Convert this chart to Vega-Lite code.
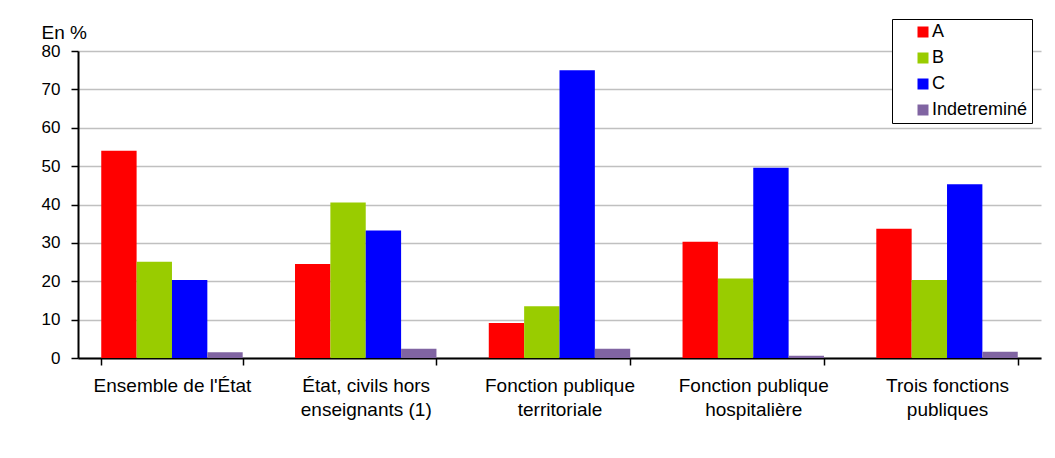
{
  "$schema": "https://vega.github.io/schema/vega-lite/v6.json",
  "autosize": "none",
  "width": 963,
  "height": 307,
  "padding": {"left": 78, "top": 51, "right": 14, "bottom": 100},
  "background": "white",
  "config": {
    "view": {"stroke": null},
    "font": "Liberation Sans",
    "axis": {"labelFont": "Liberation Sans", "titleFont": "Liberation Sans"}
  },
  "data": {
    "values": [
      {"cat": "Ensemble de l'État", "cls": "A", "v": 54.0},
      {"cat": "Ensemble de l'État", "cls": "B", "v": 25.1},
      {"cat": "Ensemble de l'État", "cls": "C", "v": 20.3},
      {"cat": "Ensemble de l'État", "cls": "Indetreminé", "v": 1.5},
      {"cat": "État, civils hors|enseignants (1)", "cls": "A", "v": 24.5},
      {"cat": "État, civils hors|enseignants (1)", "cls": "B", "v": 40.5},
      {"cat": "État, civils hors|enseignants (1)", "cls": "C", "v": 33.2},
      {"cat": "État, civils hors|enseignants (1)", "cls": "Indetreminé", "v": 2.4},
      {"cat": "Fonction publique|territoriale", "cls": "A", "v": 9.1},
      {"cat": "Fonction publique|territoriale", "cls": "B", "v": 13.5},
      {"cat": "Fonction publique|territoriale", "cls": "C", "v": 75.0},
      {"cat": "Fonction publique|territoriale", "cls": "Indetreminé", "v": 2.4},
      {"cat": "Fonction publique|hospitalière", "cls": "A", "v": 30.3},
      {"cat": "Fonction publique|hospitalière", "cls": "B", "v": 20.7},
      {"cat": "Fonction publique|hospitalière", "cls": "C", "v": 49.6},
      {"cat": "Fonction publique|hospitalière", "cls": "Indetreminé", "v": 0.6},
      {"cat": "Trois fonctions|publiques", "cls": "A", "v": 33.7},
      {"cat": "Trois fonctions|publiques", "cls": "B", "v": 20.3},
      {"cat": "Trois fonctions|publiques", "cls": "C", "v": 45.3},
      {"cat": "Trois fonctions|publiques", "cls": "Indetreminé", "v": 1.6}
    ]
  },
  "mark": {"type": "bar"},
  "encoding": {
    "x": {
      "field": "cat",
      "type": "nominal",
      "sort": null,
      "scale": {"paddingInner": 0.27, "paddingOuter": 0.12},
      "axis": {
        "title": null,
        "labelAngle": 0,
        "labelExpr": "split(datum.label, '|')",
        "labelFontSize": 19,
        "labelColor": "black",
        "labelPadding": 11,
        "labelLineHeight": 24,
        "tickBand": "extent",
        "tickColor": "black",
        "tickSize": 7,
        "tickWidth": 1.5,
        "domainColor": "black",
        "domainWidth": 2
      }
    },
    "xOffset": {"field": "cls", "type": "nominal", "sort": ["A", "B", "C", "Indetreminé"]},
    "y": {
      "field": "v",
      "type": "quantitative",
      "scale": {"domain": [0, 80]},
      "axis": {
        "values": [0, 10, 20, 30, 40, 50, 60, 70, 80],
        "title": "En %",
        "titleAngle": 0,
        "titleAlign": "left",
        "titleBaseline": "alphabetic",
        "titleX": -37,
        "titleY": -13,
        "titleFontSize": 19,
        "titleFontWeight": "normal",
        "titleColor": "black",
        "labelFontSize": 17,
        "labelColor": "black",
        "labelPadding": 11,
        "tickColor": "black",
        "tickSize": 7,
        "tickWidth": 1.5,
        "domainColor": "black",
        "domainWidth": 2,
        "grid": true,
        "gridColor": "#c0c0c0",
        "gridWidth": 1.5
      }
    },
    "color": {
      "field": "cls",
      "type": "nominal",
      "sort": ["A", "B", "C", "Indetreminé"],
      "scale": {"domain": ["A", "B", "C", "Indetreminé"], "range": ["#FF0000", "#99CC00", "#0000FF", "#8064A2"]},
      "legend": {
        "title": null,
        "orient": "none",
        "legendX": 814,
        "legendY": -32,
        "symbolType": "square",
        "symbolSize": 121,
        "symbolStrokeWidth": 0,
        "symbolOffset": 18,
        "labelFontSize": 18,
        "labelColor": "black",
        "labelOffset": 0,
        "labelExpr": "datum.label + '     '",
        "rowPadding": 8,
        "padding": 4,
        "strokeColor": "black",
        "fillColor": "white",
        "symbolOpacity": 1
      }
    }
  }
}
